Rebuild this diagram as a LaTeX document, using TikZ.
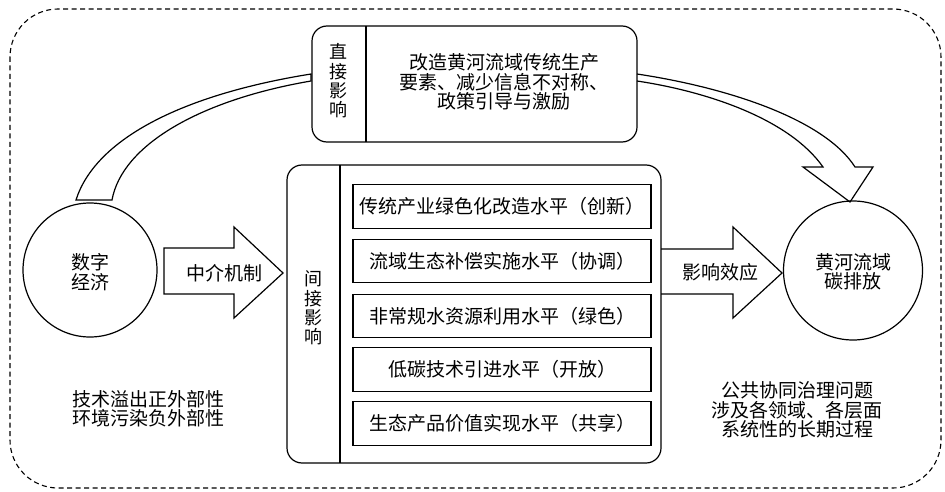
\documentclass[tikz,border=0pt]{standalone}
\usepackage{fontspec}
\newfontfamily\cjk{Noto Sans CJK SC}
\begin{document}
\begin{tikzpicture}[x=1pt,y=-1pt,
  line join=miter,
  ln/.style={line width=1.2pt},
  txt/.style={font=\cjk\fontsize{19}{19.5}\selectfont, inner sep=0pt, align=center},
  vtxt/.style={font=\cjk\fontsize{18}{19.4}\selectfont, inner sep=0pt, align=center},
  itembox/.style={draw, line width=1.4pt, minimum width=298pt, minimum height=43.5pt, inner sep=0pt, font=\cjk\fontsize{19}{19.5}\selectfont},
  circ/.style={draw, circle, line width=1.2pt, inner sep=0pt},
]
\useasboundingbox (0,0) rectangle (945,492);
% outer dashed frame
\draw[line width=1.1pt, dash pattern=on 5pt off 3.5pt, rounded corners=48pt] (10,9) rectangle (941,488);

% circles
\node[circ, minimum size=134pt] (dig) at (90,270) {};
\node[txt] (digt) at (90,272) {数字\\经济};
\node[circ, minimum size=139pt] (carb) at (853,270.5) {};
\node[txt] (carbt) at (853,272) {黄河流域\\碳排放};

% direct box
\draw[ln, rounded corners=15pt] (312,26) rectangle (637,142);
\draw[ln] (366,26) -- (366,142);
\node[vtxt] (dirlab) at (338,81) {直\\接\\影\\响};
\node[txt] (dirtxt) at (504,82) {改造黄河流域传统生产\\要素、减少信息不对称、\\政策引导与激励};

% indirect box
\draw[ln, rounded corners=15pt] (287,165) rectangle (661,463);
\draw[ln] (340,165) -- (340,463);
\node[vtxt] (indlab) at (313.5,308) {间\\接\\影\\响};
\node[itembox] (i1) at (502,206.5) {传统产业绿色化改造水平（创新）};
\node[itembox] (i2) at (502,261) {流域生态补偿实施水平（协调）};
\node[itembox] (i3) at (502,316) {非常规水资源利用水平（绿色）};
\node[itembox] (i4) at (502,369.5) {低碳技术引进水平（开放）};
\node[itembox] (i5) at (502,423.5) {生态产品价值实现水平（共享）};

% block arrows
\draw[ln] (164,248) -- (234,248) -- (234,227) -- (283,273) -- (234,318) -- (234,294) -- (164,294) -- cycle;
\node[txt] (med) at (224,273) {中介机制};
\draw[ln] (661,249) -- (733,249) -- (733,227) -- (782,273) -- (733,318) -- (733,294) -- (661,294);
\node[txt] (eff) at (720,272) {影响效应};

% curved bands
\draw[ln] (76,200) .. controls (95,140) and (180,95) .. (311,74)
  -- (311,81) .. controls (200,100) and (122,145) .. (112,200) -- cycle;
\draw[ln] (637,74) .. controls (730,88) and (825,120) .. (855,167)
  -- (873,167) -- (850,202) -- (803,167) -- (823,167)
  .. controls (790,120) and (710,92) .. (637,81);

% side texts
\node[txt] (ext) at (148,409) {技术溢出正外部性\\环境污染负外部性};
\node[txt] (gov) at (797,410) {公共协同治理问题\\涉及各领域、各层面\\系统性的长期过程};
\end{tikzpicture}
\end{document}
